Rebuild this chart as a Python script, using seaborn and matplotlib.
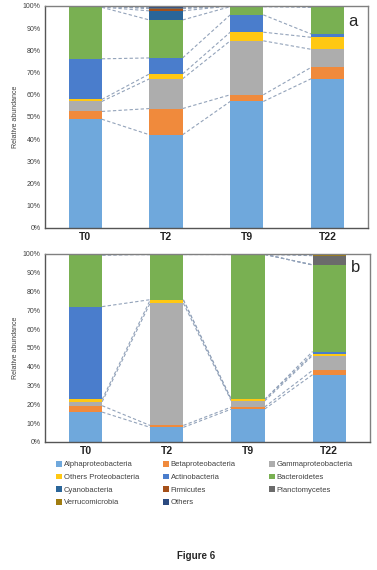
import seaborn as sns
import matplotlib.pyplot as plt
import numpy as np

# samples and taxa
samples = ['T0', 'T2', 'T9', 'T22']
taxa = ['Alphaproteobacteria', 'Betaproteobacteria', 'Gammaproteobacteria',
        'Others Proteobacteria', 'Actinobacteria', 'Bacteroidetes',
        'Cyanobacteria', 'Firmicutes', 'Planctomycetes', 'Verrucomicrobia', 'Others']
colors = ['#6FA8DC', '#F08A3C', '#ADADAD', '#FFC813', '#4A7DCC', '#79B052',
          '#2A6599', '#A5501A', '#6B6B6B', '#A07C10', '#2B4A80']

# relative abundance (%) per taxon, panel a
alpha_a = [49.0, 42.0, 57.0, 67.2]
beta_a = [3.5, 11.8, 3.0, 5.1]
gamma_a = [4.5, 13.4, 24.3, 8.2]
otherprot_a = [0.9, 2.2, 3.9, 5.4]
actino_a = [18.3, 7.2, 7.8, 1.5]
bactero_a = [23.2, 17.1, 3.7, 12.0]
cyano_a = [0.1, 4.1, 0.3, 0.3]
firmi_a = [0.4, 1.0, 0.0, 0.0]
plancto_a = [0.0, 0.3, 0.0, 0.0]
verruco_a = [0.1, 0.2, 0.0, 0.0]
others_a = [0.0, 0.7, 0.0, 0.3]

# panel b
alpha_b = [15.9, 7.8, 17.5, 35.8]
beta_b = [3.4, 1.0, 1.1, 2.3]
gamma_b = [2.1, 65.0, 3.2, 7.9]
otherprot_b = [1.2, 1.6, 0.8, 0.7]
actino_b = [49.4, 0.3, 0.0, 1.4]
bactero_b = [27.3, 24.3, 77.2, 46.1]
cyano_b = [0.7, 0.0, 0.0, 0.0]
firmi_b = [0.0, 0.0, 0.0, 0.0]
plancto_b = [0.0, 0.0, 0.0, 4.9]
verruco_b = [0.0, 0.0, 0.2, 0.9]
others_b = [0.0, 0.0, 0.0, 0.0]

panel_a = [alpha_a, beta_a, gamma_a, otherprot_a, actino_a, bactero_a,
           cyano_a, firmi_a, plancto_a, verruco_a, others_a]
panel_b = [alpha_b, beta_b, gamma_b, otherprot_b, actino_b, bactero_b,
           cyano_b, firmi_b, plancto_b, verruco_b, others_b]

sns.set_style('white')
plt.rcParams['font.family'] = ['Liberation Sans', 'DejaVu Sans']

fig = plt.figure(figsize=(3.77, 5.70), dpi=100)
ax_a = fig.add_axes([0.119, 0.600, 0.857, 0.3895])
ax_b = fig.add_axes([0.119, 0.2246, 0.862, 0.3298])

width = 0.41
line_col = '#93A3BA'


def stacked_panel(ax, values, label):
    x = np.arange(len(samples))
    bottom = np.zeros(len(samples))
    handles = []
    for taxon, vals, col in zip(taxa, values, colors):
        vals = np.array(vals, dtype=float)
        h = ax.bar(x, vals, width, bottom=bottom, color=col, label=taxon,
                   linewidth=0, zorder=2)
        handles.append(h)
        top = bottom + vals
        # series lines between neighbouring bars
        for i in range(len(samples) - 1):
            ax.plot([x[i] + width / 2, x[i + 1] - width / 2], [top[i], top[i + 1]],
                    color=line_col, lw=0.8, ls=(0, (3, 2)), zorder=1)
        bottom = top

    ax.set_xlim(-0.5, 3.5)
    ax.set_ylim(0, 100)
    ax.set_yticks(np.arange(0, 101, 10))
    ax.set_yticklabels([f'{v}%' for v in range(0, 101, 10)], fontsize=5, color='#404040')
    ax.set_xticks(x)
    ax.set_xticklabels(samples, fontsize=7.5, fontweight='bold', color='#222222')
    ax.tick_params(axis='both', length=0, pad=3)
    ax.set_ylabel('Relative abundance', fontsize=5, color='#404040', labelpad=3)
    for side in ['top', 'right']:
        ax.spines[side].set_color('#808080')
        ax.spines[side].set_linewidth(1.0)
    for side in ['left', 'bottom']:
        ax.spines[side].set_color('#555555')
        ax.spines[side].set_linewidth(1.0)
    ax.text(0.955, 0.93, label, transform=ax.transAxes, fontsize=12,
            ha='center', va='center')
    return handles


stacked_panel(ax_a, panel_a, 'a')
handles = stacked_panel(ax_b, panel_b, 'b')

# legend read row-wise: one single-column legend per column
col_x = [56 / 377, 163 / 377, 269 / 377]
for c, x0 in enumerate(col_x):
    idx = list(range(c, len(taxa), 3))
    leg = fig.legend([handles[i] for i in idx], [taxa[i] for i in idx],
                     loc='upper left', bbox_to_anchor=(x0, 1 - 461 / 570), ncol=1,
                     frameon=False, fontsize=5.5, handlelength=0.75, handleheight=0.75,
                     handletextpad=0.25, labelspacing=0.68, borderaxespad=0,
                     borderpad=0)
    for t in leg.get_texts():
        t.set_color('#404040')

fig.text(0.52, 0.016, 'Figure 6', ha='center', va='bottom', fontsize=7,
         fontweight='bold')

fig.savefig('out.png', dpi=100)
